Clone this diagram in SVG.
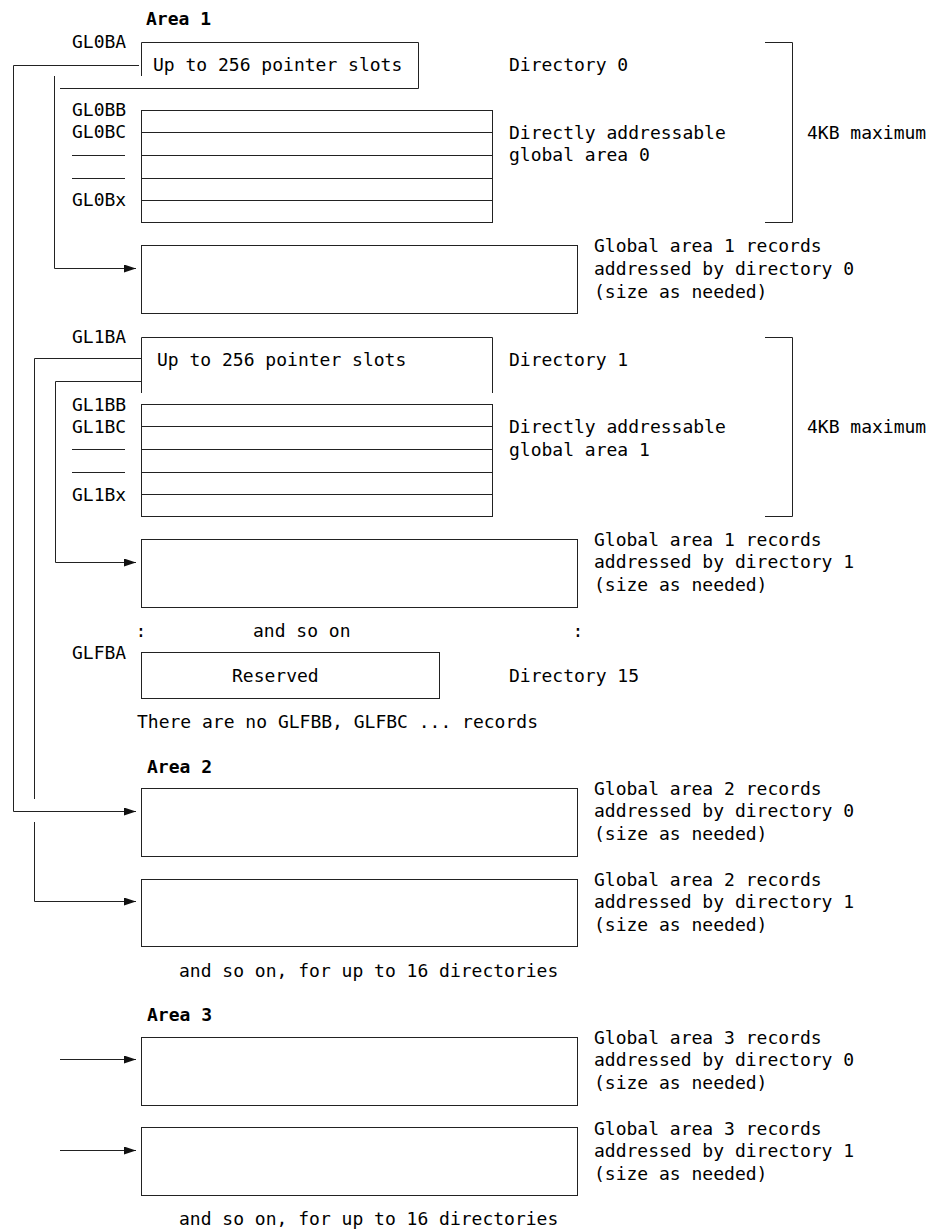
<svg xmlns="http://www.w3.org/2000/svg" width="931" height="1229" viewBox="0 0 931 1229">
<defs>
<style>
text{font-family:"DejaVu Sans Mono","Liberation Mono",monospace;font-size:18px;fill:#000}
.b{font-weight:bold}
.ln{fill:none;stroke:#222;stroke-width:1}
.bx{fill:#fff;stroke:#222;stroke-width:1}
.mid{text-anchor:middle}
</style>
<marker id="arr" viewBox="0 0 12 8" refX="12" refY="4" markerWidth="12" markerHeight="8" markerUnits="userSpaceOnUse" orient="auto">
<path d="M0,0 L12,4 L0,8 z" fill="#111"/>
</marker>
</defs>
<rect width="931" height="1229" fill="#fff"/>

<g id="connectors">
<path class="ln" d="M139,65.5 H13.5 V811.5 H136" marker-end="url(#arr)"/>
<path class="ln" d="M54.5,76 V268.5 H136" marker-end="url(#arr)"/>
<path class="ln" d="M141,358.5 H34.5 V799"/>
<path class="ln" d="M34.5,822 V901.5 H136" marker-end="url(#arr)"/>
<path class="ln" d="M141,381.5 H55.5 V562.5 H136" marker-end="url(#arr)"/>
<path class="ln" d="M60,1059.5 H136" marker-end="url(#arr)"/>
<path class="ln" d="M60,1150.5 H136" marker-end="url(#arr)"/>
</g>

<g id="area1-title"><text class="b" x="146" y="25">Area 1</text></g>

<g id="dir0">
<path class="ln" d="M141.5,76 V42.5 H418.5 V88.5 H60"/>
<text x="72" y="48">GL0BA</text>
<text x="153" y="71">Up to 256 pointer slots</text>
<text x="509" y="71">Directory 0</text>
</g>

<g id="global0">
<rect class="bx" x="141.5" y="110.5" width="351" height="112"/>
<path class="ln" d="M141.5,132.5 H492.5 M141.5,155.5 H492.5 M141.5,178.5 H492.5 M141.5,200.5 H492.5"/>
<path class="ln" d="M72,155.5 H125 M72,178.5 H125"/>
<text x="72" y="116">GL0BB</text>
<text x="72" y="138">GL0BC</text>
<text x="72" y="206">GL0Bx</text>
<text x="509" y="138.5">Directly addressable</text>
<text x="509" y="161">global area 0</text>
</g>

<g id="bracket0">
<path class="ln" d="M765,42.5 H792.5 V222.5 H765"/>
<text x="807" y="138.5">4KB maximum</text>
</g>

<g id="ga1-dir0">
<rect class="bx" x="141.5" y="245.5" width="436" height="68"/>
<text x="594" y="252">Global area 1 records</text>
<text x="594" y="275">addressed by directory 0</text>
<text x="594" y="298">(size as needed)</text>
</g>

<g id="dir1">
<path class="ln" d="M141.5,393 V337.5 H492.5 V393"/>
<text x="72" y="343">GL1BA</text>
<text x="157" y="366">Up to 256 pointer slots</text>
<text x="509" y="366">Directory 1</text>
</g>

<g id="global1">
<rect class="bx" x="141.5" y="404.5" width="351" height="112"/>
<path class="ln" d="M141.5,426.5 H492.5 M141.5,449.5 H492.5 M141.5,472.5 H492.5 M141.5,494.5 H492.5"/>
<path class="ln" d="M72,449.5 H125 M72,472.5 H125"/>
<text x="72" y="411">GL1BB</text>
<text x="72" y="433">GL1BC</text>
<text x="72" y="501">GL1Bx</text>
<text x="509" y="433">Directly addressable</text>
<text x="509" y="456">global area 1</text>
</g>

<g id="bracket1">
<path class="ln" d="M765,337.5 H792.5 V516.5 H765"/>
<text x="807" y="433">4KB maximum</text>
</g>

<g id="ga1-dir1">
<rect class="bx" x="141.5" y="539.5" width="436" height="68"/>
<text x="594" y="546">Global area 1 records</text>
<text x="594" y="568">addressed by directory 1</text>
<text x="594" y="591">(size as needed)</text>
</g>

<g id="so-on-1">
<text class="mid" x="141" y="637">:</text>
<text x="253" y="637">and so on</text>
<text class="mid" x="578" y="637">:</text>
</g>

<g id="dir15">
<rect class="bx" x="141.5" y="652.5" width="298" height="46"/>
<text x="72" y="659">GLFBA</text>
<text x="232" y="682">Reserved</text>
<text x="509" y="682">Directory 15</text>
<text x="137" y="728">There are no GLFBB, GLFBC ... records</text>
</g>

<g id="area2-title"><text class="b" x="147" y="773">Area 2</text></g>

<g id="ga2-dir0">
<rect class="bx" x="141.5" y="788.5" width="436" height="68"/>
<text x="594" y="795">Global area 2 records</text>
<text x="594" y="817">addressed by directory 0</text>
<text x="594" y="840">(size as needed)</text>
</g>

<g id="ga2-dir1">
<rect class="bx" x="141.5" y="879.5" width="436" height="67"/>
<text x="594" y="886">Global area 2 records</text>
<text x="594" y="908">addressed by directory 1</text>
<text x="594" y="931">(size as needed)</text>
</g>

<g id="so-on-2"><text x="179" y="977">and so on, for up to 16 directories</text></g>

<g id="area3-title"><text class="b" x="147" y="1021">Area 3</text></g>

<g id="ga3-dir0">
<rect class="bx" x="141.5" y="1037.5" width="436" height="68"/>
<text x="594" y="1044">Global area 3 records</text>
<text x="594" y="1066">addressed by directory 0</text>
<text x="594" y="1089">(size as needed)</text>
</g>

<g id="ga3-dir1">
<rect class="bx" x="141.5" y="1127.5" width="436" height="68"/>
<text x="594" y="1135">Global area 3 records</text>
<text x="594" y="1157">addressed by directory 1</text>
<text x="594" y="1180">(size as needed)</text>
</g>

<g id="so-on-3"><text x="179" y="1225">and so on, for up to 16 directories</text></g>
</svg>
